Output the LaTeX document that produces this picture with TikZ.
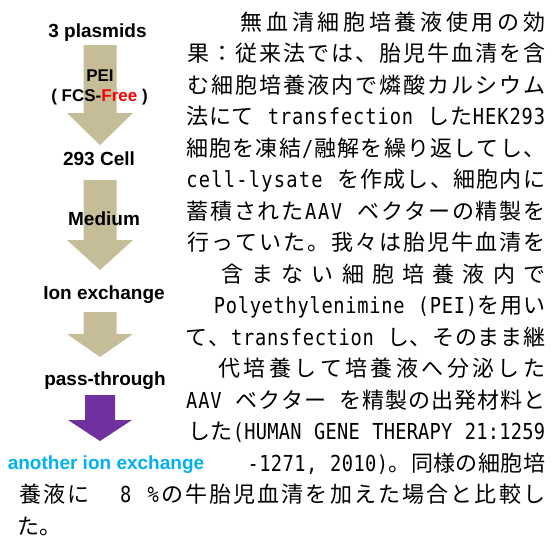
\documentclass[tikz,border=0pt]{standalone}
\usepackage{fontspec}
\setmainfont{Liberation Sans}
\newfontfamily\jp{Noto Sans CJK JP}
\newfontfamily\lt[Scale=1.0,FakeStretch=0.85]{DejaVu Sans Mono}
\definecolor{arrowtan}{RGB}{196,189,151}
\definecolor{arrowpurple}{HTML}{7030A0}
\definecolor{ionblue}{HTML}{00B0F0}
\definecolor{freered}{HTML}{FF0000}
\newcommand\hs{\kern12pt\relax}
\def\spr#1{\sprA#1\relax}
\def\sprA#1{#1\sprB}
\def\sprB#1{\ifx#1\relax\else\ifx#1\jp#1\else\ifx#1\lt#1\else\hfil#1\fi\fi\expandafter\sprB\fi}
\newcommand\jrow[2]{\hbox to #1pt{\spr{#2}}}
\tikzset{
  lbl/.style={anchor=base, inner sep=0pt, font=\fontsize{19}{22}\selectfont\bfseries},
  sublbl/.style={anchor=base, inner sep=0pt, font=\fontsize{17}{20}\selectfont\bfseries},
  jline/.style={anchor=base west, inner sep=0pt, font=\fontsize{22}{24}\selectfont\jp},
  tanarrow/.style={fill=arrowtan},
  purplearrow/.style={fill=arrowpurple}
}
\begin{document}
\begin{tikzpicture}[x=1pt,y=-1pt]
\useasboundingbox (0,0) rectangle (552,544);
% block arrows
\fill[tanarrow] (83.5,45) -- (116.5,45) -- (116.5,113) -- (133,113) -- (100,145) -- (67,113) -- (83.5,113) -- cycle;
\fill[tanarrow] (83.5,180) -- (116.5,180) -- (116.5,240) -- (133,240) -- (100,270) -- (67,240) -- (83.5,240) -- cycle;
\fill[tanarrow] (83.5,312) -- (116.5,312) -- (116.5,334) -- (133,334) -- (100,357) -- (67,334) -- (83.5,334) -- cycle;
\fill[purplearrow] (85,395) -- (115,395) -- (115,420) -- (132,420) -- (100,441) -- (68,420) -- (85,420) -- cycle;
% left column labels
\node[lbl] (plasmids) at (97.5,37) {3 plasmids};
\node[sublbl] (pei) at (100,81) {PEI};
\node[sublbl] (fcs) at (99.5,101) {( FCS-\textcolor{freered}{Free} )};
\node[lbl] (cell) at (99,165) {293 Cell};
\node[lbl] (medium) at (104,225) {Medium};
\node[lbl] (ionex) at (104,299) {Ion exchange};
\node[lbl] (pass) at (105,385) {pass-through};
\node[lbl, text=ionblue] (another) at (106,469) {another ion exchange};
% right text block
\node[jline] (r1) at (237,30) {\jrow{308}{\jp 無血清細胞培養液使用の効}};
\node[jline] (r2) at (185,61.5) {\jrow{360}{\jp 果：従来法では、胎児牛血清を含}};
\node[jline] (r3) at (185,93) {\jrow{360}{\jp む細胞培養液内で燐酸カルシウム}};
\node[jline] (r4) at (185,124.5) {\jrow{360}{\jp 法にて\hs\lt transfection\hs\jp した\lt HEK293}};
\node[jline] (r5) at (185,156) {\jrow{360}{\jp 細胞を凍結\lt /\jp 融解を繰り返してし、}};
\node[jline] (r6) at (185,187.5) {\jrow{360}{\lt cell-lysate\hs\jp を作成し、細胞内に}};
\node[jline] (r7) at (185,219) {\jrow{360}{\jp 蓄積された\lt AAV\hs\jp ベクターの精製を}};
\node[jline] (r8) at (185,250.5) {\jrow{360}{\jp 行っていた。我々は胎児牛血清を}};
\node[jline] (r9) at (213,282) {\jrow{332}{\jp 含まない細胞培養液内で}};
\node[jline] (r10) at (213,313.5) {\jrow{332}{\lt Polyethylenimine\hs(PEI)\jp を用い}};
\node[jline] (r11) at (185,345) {\jrow{360}{\jp て、\lt transfection\hs\jp し、そのまま継}};
\node[jline] (r12) at (215,376.5) {\jrow{330}{\jp 代培養して培養液へ分泌した}};
\node[jline] (r13) at (185,408) {\jrow{360}{\lt AAV\hs\jp ベクター\hs を精製の出発材料と}};
\node[jline] (r14) at (188,439.5) {\jrow{357}{\jp した\lt (HUMAN\hs GENE\hs THERAPY\hs 21:1259}};
\node[jline] (r15) at (247,471) {\jrow{298}{\lt -1271,\hs 2010)\jp 。同様の細胞培}};
\node[jline] (r16) at (17,502.5) {\jrow{528}{\jp 養液に\hs\hs\lt 8\hs\%\jp の牛胎児血清を加えた場合と比較し}};
\node[jline] (r17) at (17,534) {た。};
\end{tikzpicture}
\end{document}
